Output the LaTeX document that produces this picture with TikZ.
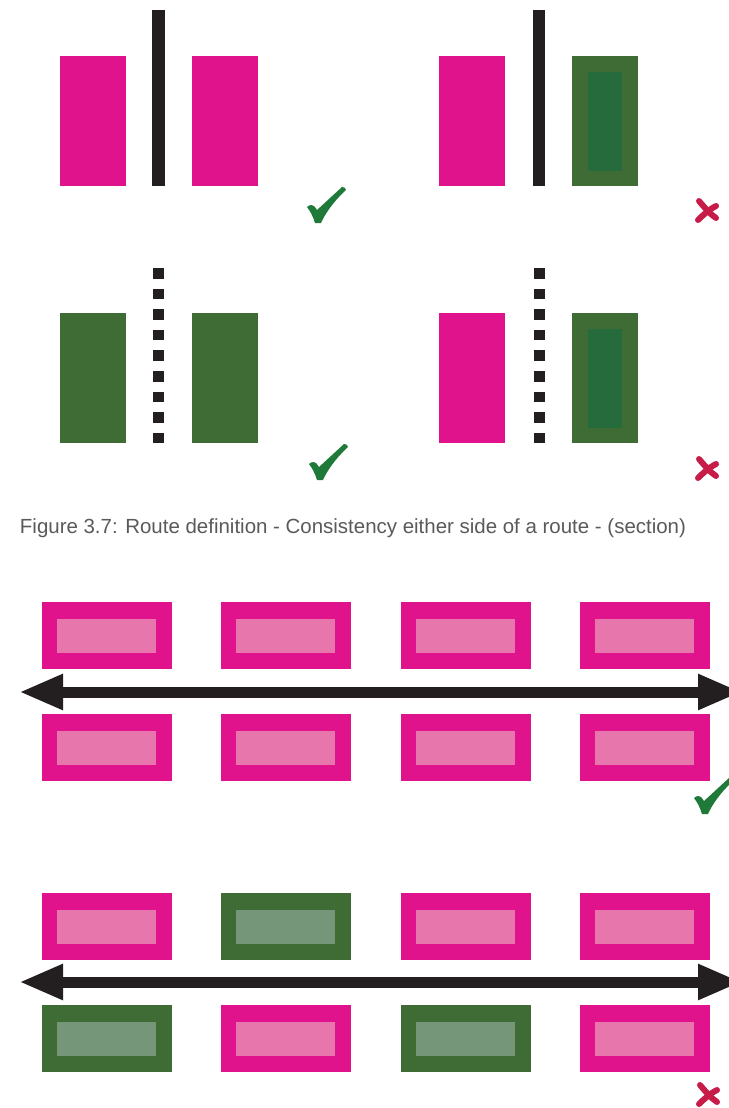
\documentclass[tikz,border=0pt]{standalone}
\usepackage{fontspec}
\setmainfont{Liberation Sans}
\usetikzlibrary{arrows.meta}
\definecolor{mag}{HTML}{E0128C}
\definecolor{pinkin}{HTML}{E676AC}
\definecolor{dgreen}{HTML}{3F6B35}
\definecolor{dgin}{HTML}{266B3B}
\definecolor{lgin}{HTML}{76967A}
\definecolor{okgreen}{HTML}{1F7A3A}
\definecolor{nored}{HTML}{C81C48}
\definecolor{ink}{HTML}{231F20}
\definecolor{captiongray}{HTML}{5A5A5C}
\newcommand\wbox[4]{% x, y, outer, inner  (wide box 130x67)
  \fill[#3] (#1,#2) rectangle ++(130,67);
  \fill[#4] (#1+15,#2+17) rectangle ++(99,34);}
\newcommand\tbox[3]{% x, y, colour (tall plain 66x130)
  \fill[#3] (#1,#2) rectangle ++(66,130);}
\newcommand\tgbox[2]{% x, y tall green with inner
  \fill[dgreen] (#1,#2) rectangle ++(66,130);
  \fill[dgin] (#1+16,#2+16) rectangle ++(34,99);}
\newcommand\chk[2]{% bottom of tick at x,y
  \fill[okgreen] (#1-11,#2-15) .. controls (#1-8,#2-18) and (#1-4,#2-18) .. (#1-1,#2-12)
    -- (#1+24,#2-35) .. controls (#1+26,#2-35) and (#1+28,#2-34) .. (#1+28,#2-32)
    .. controls (#1+15,#2-20) and (#1+7,#2-8) .. (#1+3,#2+1)
    -- (#1-3,#2+1) .. controls (#1-5,#2-6) and (#1-8,#2-11) .. cycle;}
\newcommand\crs[2]{% centre x,y
  \draw[nored,line width=6pt,line cap=round] (#1-8,#2-9) .. controls (#1-2,#2-2) and (#1+3,#2+4) .. (#1+9,#2+8);
  \draw[nored,line width=6pt,line cap=round] (#1+9,#2-4) .. controls (#1+3,#2-1) and (#1-4,#2+5) .. (#1-9,#2+10);}
\begin{document}
\begin{tikzpicture}[x=1pt,y=-1pt,
  shaft/.style={draw=ink,line width=11pt,{Triangle[length=44pt,width=33pt]}-{Triangle[length=44pt,width=33pt]}}]
\useasboundingbox (0,0) rectangle (728,1108);
\fill[white] (0,0) rectangle (728,1108);
% ---------- top left, row 1
\tbox{60}{56}{mag}
\fill[ink] (152,10) rectangle (165,186);
\tbox{192}{56}{mag}
\chk{318}{222}
% top right, row 1
\tbox{439}{56}{mag}
\fill[ink] (533,10) rectangle (545,186);
\tgbox{572}{56}
\crs{707}{210}
% ---------- row 2 left
\tbox{60}{313}{dgreen}
\foreach \i in {0,...,8} {\fill[ink] (153,268+20.6*\i) rectangle ++(11,10.5);}
\tbox{192}{313}{dgreen}
\chk{320}{479}
% row 2 right
\tbox{439}{313}{mag}
\foreach \i in {0,...,8} {\fill[ink] (534,268+20.6*\i) rectangle ++(11,10.5);}
\tgbox{572}{313}
\crs{707}{468}
% ---------- caption
\node[anchor=center,text=captiongray,inner sep=0pt] (cap) at (353,528)
  {\resizebox{666pt}{!}{Figure 3.7: Route definition - Consistency either side of a route - (section)}};
% ---------- panel 3
\foreach \x in {42,221,401,580} {\wbox{\x}{602}{mag}{pinkin}\wbox{\x}{714}{mag}{pinkin}}
\coordinate (a1l) at (19,692);
\coordinate (a1r) at (742,692);
\draw[shaft] (a1l) -- (a1r);
\chk{705}{813}
% ---------- panel 4
\wbox{42}{893}{mag}{pinkin}
\wbox{221}{893}{dgreen}{lgin}
\wbox{401}{893}{mag}{pinkin}
\wbox{580}{893}{mag}{pinkin}
\wbox{42}{1005}{dgreen}{lgin}
\wbox{221}{1005}{mag}{pinkin}
\wbox{401}{1005}{dgreen}{lgin}
\wbox{580}{1005}{mag}{pinkin}
\coordinate (a2l) at (19,982);
\coordinate (a2r) at (742,982);
\draw[shaft] (a2l) -- (a2r);
\crs{708}{1094}
\end{tikzpicture}
\end{document}
